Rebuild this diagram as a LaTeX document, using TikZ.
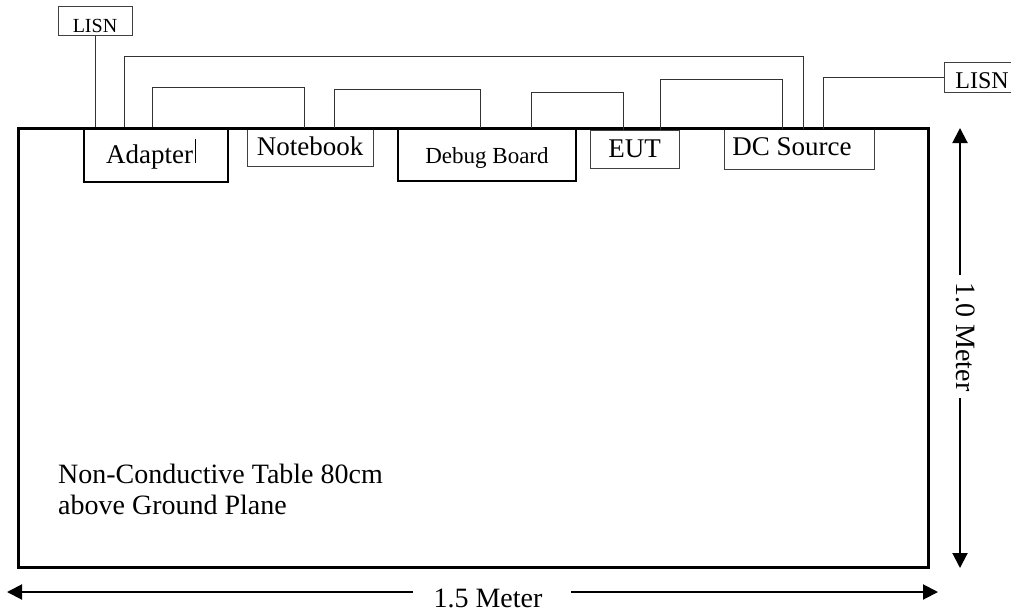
\documentclass[tikz,border=0pt]{standalone}
\usepackage{fontspec}
\setmainfont{Liberation Serif}
\usetikzlibrary{arrows.meta}
\begin{document}
\begin{tikzpicture}[x=1pt,y=-1pt,
  box/.style={draw=black!75, line width=1pt, inner sep=0pt, font=\fontsize{27pt}{30pt}\selectfont},
  thickbox/.style={box, draw=black, line width=2pt},
  vc/.style={text height=#1, text depth=0pt},
  wire/.style={draw=black!80, line width=1pt},
  dim/.style={line width=2pt, -{Triangle[length=15pt,width=15pt]}},
  tablebox/.style={draw=black, line width=3pt, inner sep=0pt},
  plain/.style={inner sep=0pt}]
\useasboundingbox (0,0) rectangle (1011,613);

% equipment
\node[thickbox, minimum width=144pt, minimum height=54pt, vc=16pt] (adapter) at (156,155) {Adapter\kern2pt\rule{0.8pt}{24pt}\hspace*{10pt}};
\node[box, minimum width=126pt, minimum height=38pt, vc=16pt] (notebook) at (310,147) {Notebook};
\node[thickbox, minimum width=178pt, minimum height=52pt, vc=16pt, font=\fontsize{23pt}{26pt}\selectfont] (debug) at (487,155) {Debug Board};
\node[box, minimum width=89pt, minimum height=38pt, vc=16pt] (eut) at (634.5,149) {EUT};
\node[box, minimum width=150pt, minimum height=40pt, vc=12pt] (dcsrc) at (799,149) {DC Source\hspace*{14pt}};
\node[box, minimum width=74pt, minimum height=29pt, vc=23pt, font=\fontsize{20pt}{22pt}\selectfont] (lisnA) at (95,20.5) {LISN};
\node[box, minimum width=76pt, minimum height=30pt, vc=22pt, font=\fontsize{24pt}{26pt}\selectfont] (lisnB) at (982,77) {LISN};

% table
\node[tablebox, minimum width=910pt, minimum height=439pt] (table) at (473,347.5) {};
\node[plain, anchor=north west, align=left, font=\fontsize{28pt}{31pt}\selectfont] (tabletext) at (58,464) {Non-Conductive Table 80cm\\above Ground Plane};

% wires
\draw[wire] (lisnA.south) -- (lisnA.south |- adapter.north);
\draw[wire] (adapter.north -| 124,0) -- (124,56) -| (dcsrc.north -| 803,0);
\draw[wire] (adapter.north -| 152,0) -- (152,87) -| (notebook.north -| 304,0);
\draw[wire] (notebook.north -| 334,0) -- (334,89) -| (debug.north -| 480,0);
\draw[wire] (debug.north -| 531,0) -- (531,92) -| (eut.north -| 623,0);
\draw[wire] (eut.north -| 660,0) -- (660,79) -| (dcsrc.north -| 782,0);
\draw[wire] (dcsrc.north -| 823,0) |- (lisnB.west);

% dimensions
\node[plain, rotate=-90, font=\fontsize{28pt}{30pt}\selectfont] (vlab) at (966,337) {1.0 Meter};
\node[plain, anchor=base, font=\fontsize{28pt}{30pt}\selectfont] (hlab) at (488,607) {1.5 Meter};
\coordinate (vtop) at (960,128);
\coordinate (vbot) at (960,568);
\coordinate (vg1) at (960,275);
\coordinate (vg2) at (960,398);
\coordinate (hl) at (7,592);
\coordinate (hr) at (938,592);
\coordinate (hg1) at (413,592);
\coordinate (hg2) at (571,592);
\draw[dim] (vg1) -- (vtop);
\draw[dim] (vg2) -- (vbot);
\draw[dim] (hg1) -- (hl);
\draw[dim] (hg2) -- (hr);
\end{tikzpicture}
\end{document}
